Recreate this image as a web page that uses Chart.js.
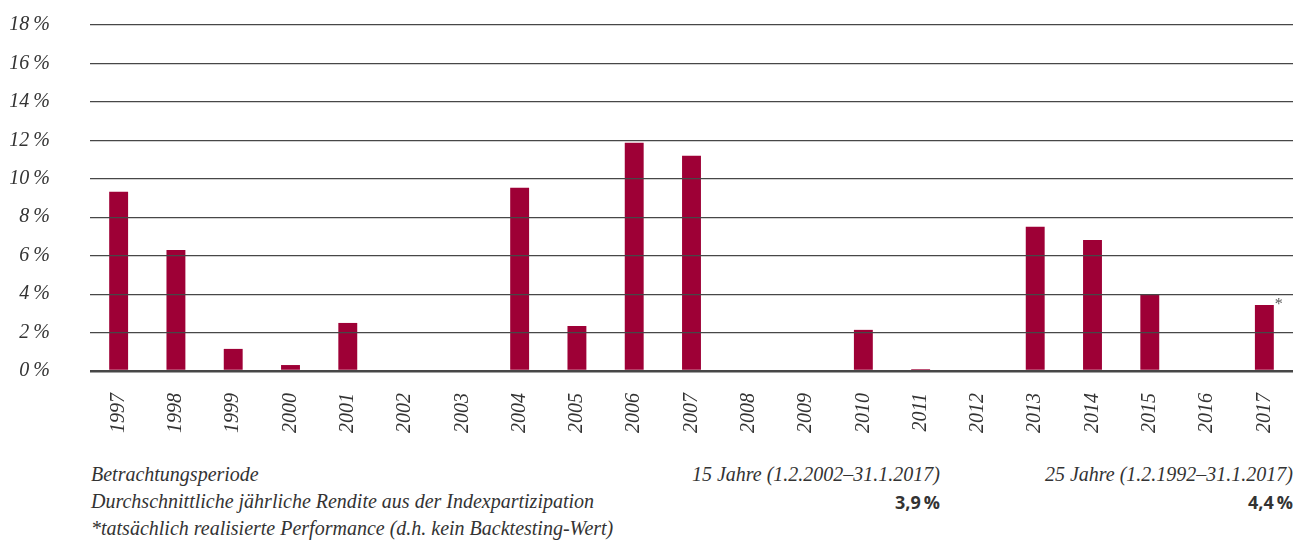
<!DOCTYPE html>
<html lang="de">
<head>
<meta charset="utf-8">
<script src="https://cdn.jsdelivr.net/npm/chart.js@4/dist/chart.umd.min.js"></script>
<style>
  html, body { margin: 0; padding: 0; background: #fff; }
  body { width: 1296px; height: 540px; position: relative; overflow: hidden; font-family: "Liberation Serif", serif; color: #333; }
  #wrap { position: absolute; left: 0; top: 0; width: 1296px; height: 450px; }
  .row { position: absolute; left: 0; width: 1296px; height: 28px; font-size: 20px; font-style: italic; white-space: nowrap; }
  .row span { position: absolute; top: 0; }
  .l { left: 91px; }
  .c { right: 356px; }
  .r { right: 3px; }
  .b { font-family: "Open Sans", sans-serif; font-style: normal; font-weight: 700; font-size: 18px; }
</style>
</head>
<body>
<div id="wrap"><canvas id="chart"></canvas></div>

<div class="row" style="top:463px"><span class="l">Betrachtungsperiode</span><span class="c" id="p15"></span><span class="r" id="p25"></span></div>
<div class="row" style="top:490px"><span class="l">Durchschnittliche jährliche Rendite aus der Indexpartizipation</span><span class="c b" id="v15"></span><span class="r b" id="v25"></span></div>
<div class="row" style="top:517px"><span class="l">*tatsächlich realisierte Performance (d.h. kein Backtesting-Wert)</span></div>

<script>
  // data
  const years = ["1997", "1998", "1999", "2000", "2001", "2002", "2003", "2004", "2005", "2006",
    "2007", "2008", "2009", "2010", "2011", "2012", "2013", "2014", "2015", "2016", "2017"];
  const returns = [9.32, 6.3, 1.15, 0.31, 2.5, 0, 0, 9.53, 2.34, 11.88,
    11.2, 0, 0, 2.14, 0.1, 0, 7.5, 6.82, 4.0, 0, 3.44];
  const yTicks = [0, 2, 4, 6, 8, 10, 12, 14, 16, 18];
  const periods = ["15 Jahre (1.2.2002–31.1.2017)", "25 Jahre (1.2.1992–31.1.2017)"];
  const averages = ["3,9\u2009%", "4,4\u2009%"];
  const actualIndex = 20; // bar marked with *

  document.getElementById("p15").textContent = periods[0];
  document.getElementById("p25").textContent = periods[1];
  document.getElementById("v15").textContent = averages[0];
  document.getElementById("v25").textContent = averages[1];

  const barColor = "#9e0036";
  const gridColor = "#474747";

  // small asterisk next to the actually realised bar
  const starPlugin = {
    id: "star",
    afterDraw(chart) {
      const bar = chart.getDatasetMeta(0).data[actualIndex];
      if (!bar) return;
      const ctx = chart.ctx;
      ctx.save();
      ctx.fillStyle = "#555";
      ctx.font = "16px 'Liberation Serif'";
      ctx.textAlign = "left";
      ctx.textBaseline = "top";
      ctx.fillText("*", bar.x + bar.width / 2 + 1, bar.y - 8);
      ctx.restore();
    }
  };

  new Chart(document.getElementById("chart"), {
    type: "bar",
    data: {
      labels: years,
      datasets: [{
        data: returns,
        backgroundColor: barColor,
        barPercentage: 0.33,
        categoryPercentage: 1.0,
      }],
    },
    options: {
      responsive: true,
      maintainAspectRatio: false,
      animation: false,
      layout: { padding: { top: 25, right: 3, left: 0, bottom: 0 } },
      plugins: { legend: { display: false }, tooltip: { enabled: false } },
      scales: {
        x: {
          grid: { display: false },
          border: { display: false },
          ticks: {
            minRotation: 90,
            maxRotation: 90,
            padding: 14,
            color: "#333",
            font: { family: "'Liberation Serif'", style: "italic", size: 20 },
          },
          afterFit(scale) {
            scale.height = 79;
            scale.paddingLeft = 0;
            scale.paddingRight = 0;
          },
        },
        y: {
          min: 0,
          max: 18,
          afterBuildTicks(scale) { scale.ticks = yTicks.map(v => ({ value: v })); },
          grid: {
            z: 1,
            color: gridColor,
            drawTicks: false,
            lineWidth: (c) => (c.tick && c.tick.value === 0 ? 2.5 : 1.2),
          },
          border: { display: false },
          ticks: {
            padding: 40,
            color: "#333",
            font: { family: "'Liberation Serif'", style: "italic", size: 20 },
            callback: (v) => v + "\u2009%",
          },
          afterFit(scale) {
            scale.width = 90;
            scale.paddingTop = 0;
            scale.paddingBottom = 0;
          },
        },
      },
    },
    plugins: [starPlugin],
  });
</script>
</body>
</html>
